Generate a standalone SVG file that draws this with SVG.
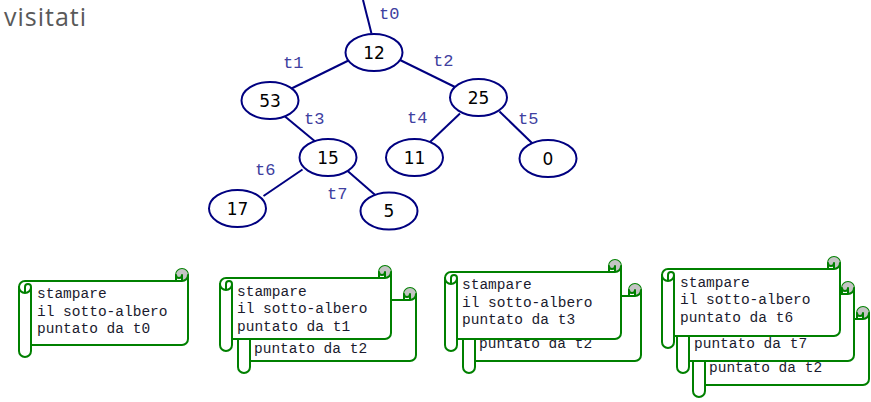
<svg xmlns="http://www.w3.org/2000/svg" width="871" height="402" viewBox="0 0 871 402">
<style>
.edge{stroke:#000080;stroke-width:2;fill:none}
.node ellipse{fill:#fff;stroke:#000080;stroke-width:2}
.node text{font-family:"DejaVu Sans",sans-serif;font-size:17px;fill:#000;text-anchor:middle}
.lbl{font-family:"Liberation Mono",monospace;font-size:17px;fill:#4040a0}
.sc{fill:#fff;stroke:#008000;stroke-width:2;stroke-linejoin:round}
.sl{fill:none;stroke:#008000;stroke-width:2;stroke-linejoin:round;stroke-linecap:round}
.cu{fill:#c4c4c4;stroke:none}
.st{font-family:"Liberation Mono",monospace;font-size:14.5px;fill:#1a1a2e}
.title{font-family:"Open Sans",sans-serif;font-size:25px;fill:#595959}
</style>
<rect width="871" height="402" fill="#fff"/>
<text class="title" x="4" y="26" textLength="82" lengthAdjust="spacing">visitati</text>

<g id="connectors">
<line class="edge" x1="363" y1="0" x2="371.5" y2="33.5"/>
<line class="edge" x1="348.5" y1="60.5" x2="291.5" y2="88.5"/>
<line class="edge" x1="400" y1="60" x2="456" y2="87.5"/>
<line class="edge" x1="285" y1="116.5" x2="317" y2="143"/>
<line class="edge" x1="460" y1="113.5" x2="430" y2="142"/>
<line class="edge" x1="499.5" y1="111.5" x2="532.5" y2="143.5"/>
<line class="edge" x1="302.5" y1="169.5" x2="263.5" y2="196"/>
<line class="edge" x1="346.5" y1="170" x2="377.5" y2="197"/>
<text class="lbl" x="379" y="19">t0</text>
<text class="lbl" x="283" y="68">t1</text>
<text class="lbl" x="433" y="66">t2</text>
<text class="lbl" x="304" y="124">t3</text>
<text class="lbl" x="407" y="123">t4</text>
<text class="lbl" x="518" y="124">t5</text>
<text class="lbl" x="255" y="175">t6</text>
<text class="lbl" x="327" y="199">t7</text>
</g>

<g id="n12" class="node"><ellipse cx="374" cy="52.5" rx="28.5" ry="18.5"/><text x="374" y="58.5">12</text></g>
<g id="n53" class="node"><ellipse cx="270" cy="100.5" rx="28.5" ry="18.5"/><text x="270" y="106.5">53</text></g>
<g id="n25" class="node"><ellipse cx="478.5" cy="97.5" rx="28.5" ry="18.5"/><text x="478.5" y="103.5">25</text></g>
<g id="n15" class="node"><ellipse cx="328" cy="157.5" rx="28.5" ry="18.5"/><text x="328" y="163.5">15</text></g>
<g id="n11" class="node"><ellipse cx="414.5" cy="157.5" rx="28.5" ry="18.5"/><text x="414.5" y="163.5">11</text></g>
<g id="n0" class="node"><ellipse cx="548" cy="158.5" rx="28.5" ry="18.5"/><text x="548" y="164.5">0</text></g>
<g id="n17" class="node"><ellipse cx="237.5" cy="208.5" rx="28.5" ry="18.5"/><text x="237.5" y="214.5">17</text></g>
<g id="n5" class="node"><ellipse cx="389" cy="211" rx="28.5" ry="18.5"/><text x="389" y="217">5</text></g>

<!-- Scroll 1: L=19 T=269 R=188 B=357 -->
<g id="scroll1">
<path class="sc" d="M19,287 A6,6 0 0 1 25,281 L176,281 L176,275 A6,6 0 0 1 188,275 L188,339 A6,6 0 0 1 182,345 L31,345 L31,351 A6,6 0 0 1 19,351 Z"/>
<path class="cu" d="M182,281 A6,6 0 1 0 176,275 A3,3 0 0 0 182,275 Z"/>
<path class="sl" d="M176,281 L182,281 A6,6 0 0 0 188,275 M182,281 L182,275 A3,3 0 0 1 176,275 M25,293 L25,287 A3,3 0 0 1 31,287 A6,6 0 0 1 19,287 M31,287 L31,345"/>
<text class="st" x="37" y="298">stampare</text>
<text class="st" x="37" y="316">il sotto-albero</text>
<text class="st" x="37" y="333">puntato da t0</text>
</g>

<!-- Scroll 2 back: L=238 T=288 R=416 B=373 -->
<g id="scroll2b">
<path class="sc" d="M238,306 A6,6 0 0 1 244,300 L404,300 L404,294 A6,6 0 0 1 416,294 L416,355 A6,6 0 0 1 410,361 L250,361 L250,367 A6,6 0 0 1 238,367 Z"/>
<path class="cu" d="M410,300 A6,6 0 1 0 404,294 A3,3 0 0 0 410,294 Z"/>
<path class="sl" d="M404,300 L410,300 A6,6 0 0 0 416,294 M410,300 L410,294 A3,3 0 0 1 404,294 M244,312 L244,306 A3,3 0 0 1 250,306 A6,6 0 0 1 238,306 M250,306 L250,361"/>
<text class="st" x="254" y="353">puntato da t2</text>
</g>
<!-- Scroll 2 front: L=220 T=266 R=391 B=351 -->
<g id="scroll2a">
<path class="sc" d="M220,284 A6,6 0 0 1 226,278 L379,278 L379,272 A6,6 0 0 1 391,272 L391,333 A6,6 0 0 1 385,339 L232,339 L232,345 A6,6 0 0 1 220,345 Z"/>
<path class="cu" d="M385,278 A6,6 0 1 0 379,272 A3,3 0 0 0 385,272 Z"/>
<path class="sl" d="M379,278 L385,278 A6,6 0 0 0 391,272 M385,278 L385,272 A3,3 0 0 1 379,272 M226,290 L226,284 A3,3 0 0 1 232,284 A6,6 0 0 1 220,284 M232,284 L232,339"/>
<text class="st" x="237" y="296">stampare</text>
<text class="st" x="237" y="313">il sotto-albero</text>
<text class="st" x="237" y="331">puntato da t1</text>
</g>

<!-- Scroll 3 back: L=463 T=284 R=641 B=373 -->
<g id="scroll3b">
<path class="sc" d="M463,302 A6,6 0 0 1 469,296 L629,296 L629,290 A6,6 0 0 1 641,290 L641,355 A6,6 0 0 1 635,361 L475,361 L475,367 A6,6 0 0 1 463,367 Z"/>
<path class="cu" d="M635,296 A6,6 0 1 0 629,290 A3,3 0 0 0 635,290 Z"/>
<path class="sl" d="M629,296 L635,296 A6,6 0 0 0 641,290 M635,296 L635,290 A3,3 0 0 1 629,290 M469,308 L469,302 A3,3 0 0 1 475,302 A6,6 0 0 1 463,302 M475,302 L475,361"/>
<text class="st" x="479" y="348">puntato da t2</text>
</g>
<!-- Scroll 3 front: L=445 T=260 R=621 B=351 -->
<g id="scroll3a">
<path class="sc" d="M445,278 A6,6 0 0 1 451,272 L609,272 L609,266 A6,6 0 0 1 621,266 L621,333 A6,6 0 0 1 615,339 L457,339 L457,345 A6,6 0 0 1 445,345 Z"/>
<path class="cu" d="M615,272 A6,6 0 1 0 609,266 A3,3 0 0 0 615,266 Z"/>
<path class="sl" d="M609,272 L615,272 A6,6 0 0 0 621,266 M615,272 L615,266 A3,3 0 0 1 609,266 M451,284 L451,278 A3,3 0 0 1 457,278 A6,6 0 0 1 445,278 M457,278 L457,339"/>
<text class="st" x="462" y="289">stampare</text>
<text class="st" x="462" y="307">il sotto-albero</text>
<text class="st" x="462" y="324">puntato da t3</text>
</g>

<!-- Scroll 4 back: L=693 T=307 R=869 B=397 -->
<g id="scroll4c">
<path class="sc" d="M693,325 A6,6 0 0 1 699,319 L857,319 L857,313 A6,6 0 0 1 869,313 L869,379 A6,6 0 0 1 863,385 L705,385 L705,391 A6,6 0 0 1 693,391 Z"/>
<path class="cu" d="M863,319 A6,6 0 1 0 857,313 A3,3 0 0 0 863,313 Z"/>
<path class="sl" d="M857,319 L863,319 A6,6 0 0 0 869,313 M863,319 L863,313 A3,3 0 0 1 857,313 M699,331 L699,325 A3,3 0 0 1 705,325 A6,6 0 0 1 693,325 M705,325 L705,385"/>
<text class="st" x="709" y="372">puntato da t2</text>
</g>
<!-- Scroll 4 middle: L=677 T=282 R=854 B=373 -->
<g id="scroll4b">
<path class="sc" d="M677,300 A6,6 0 0 1 683,294 L842,294 L842,288 A6,6 0 0 1 854,288 L854,355 A6,6 0 0 1 848,361 L689,361 L689,367 A6,6 0 0 1 677,367 Z"/>
<path class="cu" d="M848,294 A6,6 0 1 0 842,288 A3,3 0 0 0 848,288 Z"/>
<path class="sl" d="M842,294 L848,294 A6,6 0 0 0 854,288 M848,294 L848,288 A3,3 0 0 1 842,288 M683,306 L683,300 A3,3 0 0 1 689,300 A6,6 0 0 1 677,300 M689,300 L689,361"/>
<text class="st" x="694" y="348">puntato da t7</text>
</g>
<!-- Scroll 4 front: L=662 T=257 R=840 B=348 -->
<g id="scroll4a">
<path class="sc" d="M662,275 A6,6 0 0 1 668,269 L828,269 L828,263 A6,6 0 0 1 840,263 L840,330 A6,6 0 0 1 834,336 L674,336 L674,342 A6,6 0 0 1 662,342 Z"/>
<path class="cu" d="M834,269 A6,6 0 1 0 828,263 A3,3 0 0 0 834,263 Z"/>
<path class="sl" d="M828,269 L834,269 A6,6 0 0 0 840,263 M834,269 L834,263 A3,3 0 0 1 828,263 M668,281 L668,275 A3,3 0 0 1 674,275 A6,6 0 0 1 662,275 M674,275 L674,336"/>
<text class="st" x="680" y="287">stampare</text>
<text class="st" x="680" y="304">il sotto-albero</text>
<text class="st" x="680" y="322">puntato da t6</text>
</g>
</svg>
